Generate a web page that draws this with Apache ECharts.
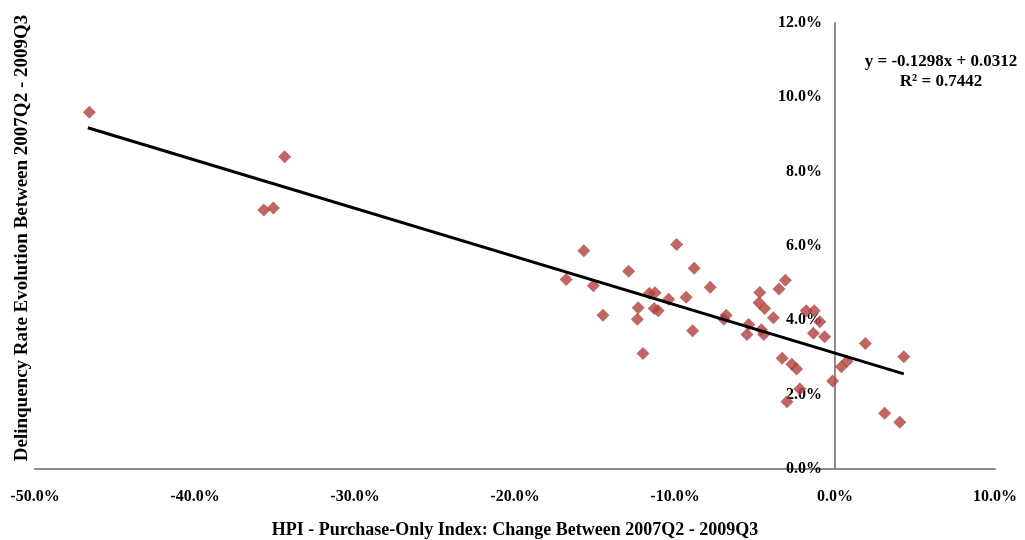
<!DOCTYPE html>
<html>
<head>
<meta charset="utf-8">
<script src="https://cdn.jsdelivr.net/npm/echarts@6/dist/echarts.min.js"></script>
<style>html,body{margin:0;padding:0;background:#fff}#c{width:1025px;height:540px}</style>
</head>
<body>
<div id="c"></div>
<script>
// HPI change (%) vs delinquency rate evolution (%)
const hpiChange = [-46.6,-34.4,-35.7,-35.1,-15.7,-16.8,-15.1,-14.5,-12.9,-11.6,-11.25,-12.3,-12.35,-11.3,-11.05,-12.0,-10.4,-9.9,-9.3,-8.8,-8.9,-7.8,-6.8,-6.95,-5.4,-5.5,-4.6,-4.45,-4.7,-4.75,-4.4,-3.85,-3.5,-3.1,-3.3,-2.7,-2.4,-2.2,-3.0,-1.8,-1.3,-0.95,-1.35,-0.65,-0.15,0.4,0.75,1.9,4.3,3.1,4.05];
const delinquency = [9.6,8.4,6.97,7.02,5.87,5.1,4.93,4.14,5.32,4.73,4.74,4.34,4.03,4.32,4.26,3.11,4.57,6.04,4.62,5.4,3.72,4.89,4.14,4.03,3.89,3.62,3.75,3.62,4.75,4.47,4.32,4.07,4.84,5.08,2.98,2.82,2.69,2.15,1.81,4.26,4.26,3.96,3.65,3.56,2.37,2.75,2.9,3.38,3.02,1.5,1.26];
const trendX = [-46.7, 4.3];
const trendY = [9.18, 2.56];
const xTicks = [-50, -40, -30, -20, -10, 0, 10];
const yTicks = [0, 2, 4, 6, 8, 10, 12];
const equationLines = ['y = -0.1298x + 0.0312', 'R² = 0.7442'];

const font = '"Liberation Serif", "Times New Roman", serif';
const pts = hpiChange.map((x, i) => [x, delinquency[i]]);
const trend = trendX.map((x, i) => [x, trendY[i]]);

const gridLeft = 35, gridRight = 30;
const plotW = 1025 - gridLeft - gridRight;
const xMin = xTicks[0], xMax = xTicks[xTicks.length-1];
// y axis crosses at x = 0
const yAxisOffset = -plotW * (0 - xMin) / (xMax - xMin);

const chart = echarts.init(document.getElementById('c'));
chart.setOption({
  animation: false,
  grid: {left: gridLeft, right: gridRight, top: 23, bottom: 71, outerBoundsMode: 'none', containLabel: false},
  xAxis: {
    type: 'value', min: xMin, max: xMax, interval: 10,
    splitLine: {show: false},
    axisTick: {show: false},
    axisLine: {onZero: false, lineStyle: {color: '#8c8c8c', width: 2}},
    axisLabel: {margin: 20, color: '#000', fontFamily: font, fontWeight: 'bold', fontSize: 16,
      formatter: v => v.toFixed(1) + '%'},
    name: 'HPI - Purchase-Only Index: Change Between 2007Q2 - 2009Q3',
    nameLocation: 'middle', nameGap: 52,
    nameTextStyle: {color: '#000', fontFamily: font, fontWeight: 'bold', fontSize: 18}
  },
  yAxis: {
    type: 'value', min: yTicks[0], max: yTicks[yTicks.length-1], interval: 2,
    position: 'left', offset: yAxisOffset,
    splitLine: {show: false},
    axisTick: {show: false},
    axisLine: {onZero: false, lineStyle: {color: '#8c8c8c', width: 2}},
    axisLabel: {margin: 13, color: '#000', fontFamily: font, fontWeight: 'bold', fontSize: 16,
      formatter: v => v.toFixed(1) + '%'}
  },
  graphic: [
    {type: 'text', x: 22, y: 238, rotation: Math.PI/2,
      style: {text: 'Delinquency Rate Evolution Between 2007Q2 - 2009Q3', fill: '#000',
        font: 'bold 19px ' + font, textAlign: 'center', textVerticalAlign: 'middle'}},
    {type: 'text', x: 941, y: 62,
      style: {text: equationLines[0], fill: '#000', font: 'bold 17px ' + font, textAlign: 'center', textVerticalAlign: 'middle'}},
    {type: 'text', x: 941, y: 82,
      style: {text: equationLines[1], fill: '#000', font: 'bold 17px ' + font, textAlign: 'center', textVerticalAlign: 'middle'}}
  ],
  series: [
    {type: 'scatter', data: pts, symbol: 'diamond', symbolSize: 13, itemStyle: {color: '#b0403c'}, z: 3},
    {type: 'line', data: trend, symbol: 'none', lineStyle: {color: '#000', width: 3}, z: 4}
  ]
});
</script>
</body>
</html>
